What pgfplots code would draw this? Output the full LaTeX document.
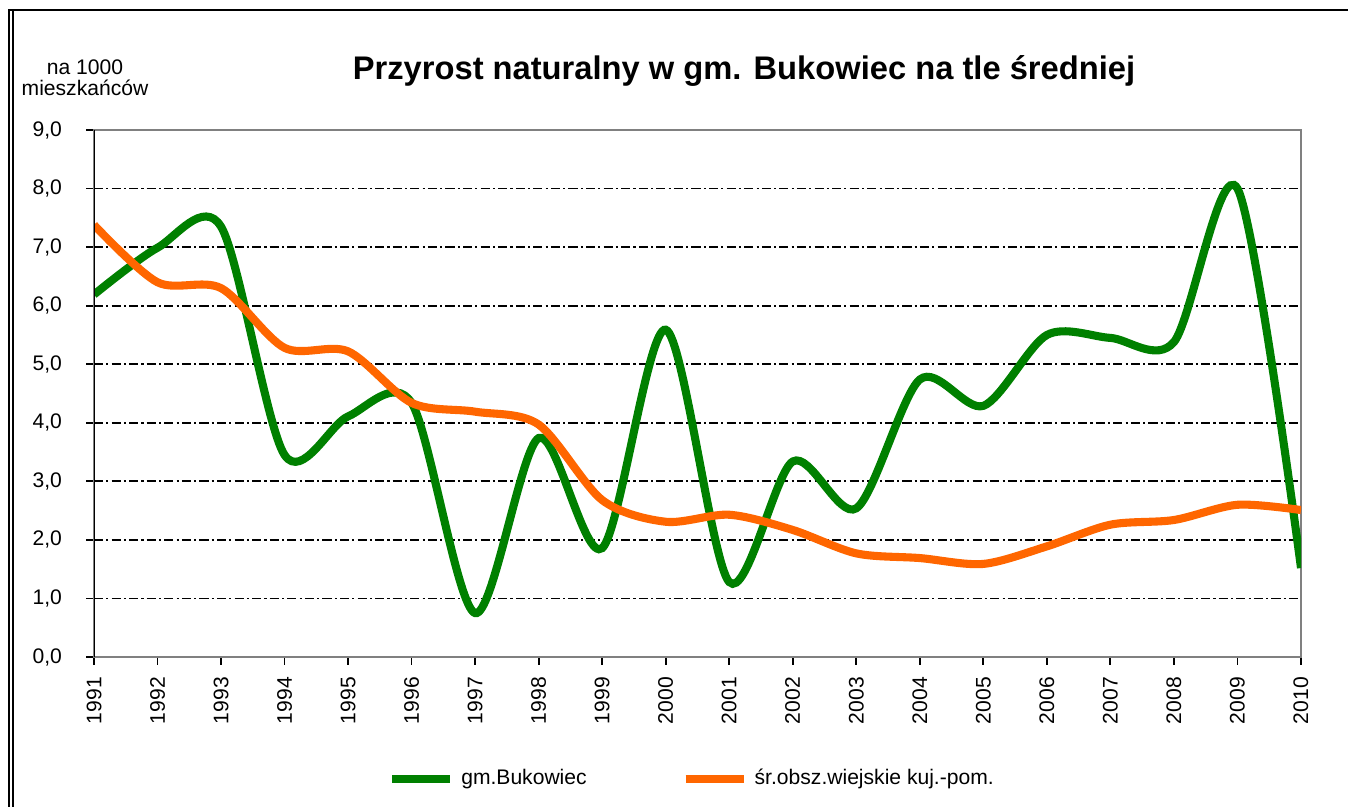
\documentclass[border=0pt]{standalone}
\usepackage{pgfplots}
\pgfplotsset{compat=1.18}
\usepackage{fontspec}
\setmainfont{Liberation Sans}
\definecolor{cgreen}{RGB}{0,128,0}
\definecolor{corange}{RGB}{255,102,0}
\definecolor{cgray}{RGB}{128,128,128}
\begin{document}
\begin{tikzpicture}[x=1cm,y=1cm]
\useasboundingbox (0,0) rectangle (13.48,8.07);
% outer frame
\draw[black, line width=0.6pt] (0.08,7.97) -- (13.48,7.97);
\draw[black, line width=0.5pt] (0.09,7.97) -- (0.09,0);
\draw[black, line width=0.5pt] (0.13,7.97) -- (0.13,0);
% title
\node[font=\fontsize{9.3}{11}\selectfont\bfseries] at (7.44,7.36) {Przyrost naturalny w gm. Bukowiec na tle średniej};
\node[font=\fontsize{6}{6}\selectfont, align=center] at (0.85,7.29) {na 1000\\mieszkańców};
\begin{axis}[
  at={(0.94cm,1.50cm)}, anchor=south west,
  scale only axis, width=12.07cm, height=5.27cm,
  xmin=1991, xmax=2010, ymin=0, ymax=9,
  xtick={1991,1992,...,2010},
  ytick={0,1,...,9},
  /pgf/number format/assume math mode=true,
  x tick label style={/pgf/number format/1000 sep={}, rotate=90, anchor=east, font=\fontsize{6}{7}\selectfont},
  y tick label style={/pgf/number format/.cd, fixed, fixed zerofill, precision=1, use comma, /tikz/.cd, font=\fontsize{6}{7}\selectfont, xshift=-3.4pt},
  axis line style={draw=cgray, line width=0.6pt},
  tick style={black, line width=0.5pt},
  tick align=outside,
  major tick length=2.2pt,
  xtick pos=bottom, ytick pos=left,
  ymajorgrids,
  major grid style={black, line width=0.5pt, dash pattern=on 2.6pt off 0.9pt on 0.6pt off 0.9pt},
  legend columns=2,
  legend style={draw=none, at={(0.4975,-0.2315)}, anchor=center, font=\fontsize{6}{7}\selectfont, /tikz/every even column/.append style={column sep=25pt}},
  legend image code/.code={\draw[#1] (0cm,0cm) -- (0.58cm,0cm);},
]
\addplot[cgreen, line width=2.3pt, smooth] coordinates {
(1991,6.19) (1992,6.99) (1993,7.35) (1994,3.45) (1995,4.11) (1996,4.34)
(1997,0.75) (1998,3.74) (1999,1.86) (2000,5.59) (2001,1.28) (2002,3.34)
(2003,2.54) (2004,4.74) (2005,4.29) (2006,5.50) (2007,5.45) (2008,5.38)
(2009,8.00) (2010,1.52)};
\addlegendentry{gm.Bukowiec}
\addplot[corange, line width=2.3pt, smooth] coordinates {
(1991,7.38) (1992,6.40) (1993,6.30) (1994,5.28) (1995,5.22) (1996,4.34)
(1997,4.19) (1998,3.97) (1999,2.68) (2000,2.31) (2001,2.43) (2002,2.17)
(2003,1.77) (2004,1.69) (2005,1.59) (2006,1.89) (2007,2.26) (2008,2.34)
(2009,2.60) (2010,2.51)};
\addlegendentry{śr.obsz.wiejskie kuj.-pom.}
\draw[black, line width=0.6pt] (rel axis cs:0,0) -- (rel axis cs:0,1);
\end{axis}
\end{tikzpicture}
\end{document}
